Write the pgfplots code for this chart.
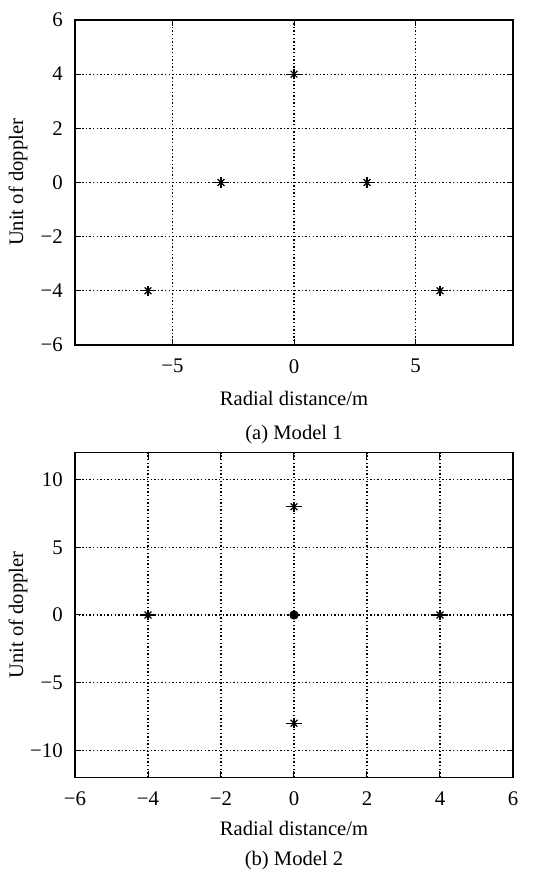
\documentclass[border=0pt]{standalone}
\usepackage{pgfplots}
\pgfplotsset{compat=1.18}
\usepackage{fontspec}
\setmainfont{Liberation Serif}
\begin{document}
\fontsize{10.3pt}{12pt}\selectfont
\begin{tikzpicture}
\useasboundingbox (0,0) rectangle (270.5pt,435.5pt);
\pgfplotsset{
  modelax/.style={
    scale only axis,
    width=219pt,
    axis line style={black, line width=0.6pt},
    tick align=inside,
    major tick length=3pt,
    tick style={black, line width=0.5pt},
    grid=major,
    major grid style={black, line width=0.55pt, dash pattern=on 0.7pt off 1.1pt},
    /pgf/number format/assume math mode=true,
    ticklabel style={font=\fontsize{10.4pt}{12pt}\selectfont},
    xtick pos=both, ytick pos=both,
    yticklabel style={xshift=-2.5pt},
    xticklabel style={yshift=-3.5pt},
    label style={font=\fontsize{10.3pt}{12pt}\selectfont},
  },
  hmark/.style={only marks, mark=-, mark size=3.8pt, mark options={line width=0.6pt}, black},
  vmark/.style={only marks, mark=|, mark size=2.6pt, mark options={line width=0.6pt}, black},
  xmark/.style={only marks, mark=x, mark size=2.4pt, mark options={line width=0.6pt}, black},
}
% Top: Model 1
\begin{axis}[modelax,
  at={(37.5pt,263pt)}, anchor=south west,
  height=162.5pt,
  xmin=-9, xmax=9, ymin=-6, ymax=6,
  xtick={-5,0,5}, xticklabels={−5,0,5},
  ytick={-6,-4,-2,0,2,4,6}, yticklabels={−6,−4,−2,0,2,4,6},
  xlabel={Radial distance/m}, ylabel={Unit of doppler},
  xlabel style={at={(axis description cs:0.5,-0.163)}, anchor=center},
  ylabel style={at={(axis description cs:-0.130,0.5)}, anchor=center},
]
\addplot[hmark] coordinates {(0,4) (-3,0) (3,0) (-6,-4) (6,-4)};
\addplot[vmark] coordinates {(0,4) (-3,0) (3,0) (-6,-4) (6,-4)};
\addplot[xmark] coordinates {(0,4) (-3,0) (3,0) (-6,-4) (6,-4)};
\end{axis}
\node[anchor=center] at (147pt,218pt) {(a) Model 1};
% Bottom: Model 2
\begin{axis}[modelax,
  at={(37.5pt,46.85pt)}, anchor=south west,
  height=162.3pt,
  xmin=-6, xmax=6, ymin=-12, ymax=12,
  xtick={-6,-4,-2,0,2,4,6}, xticklabels={−6,−4,−2,0,2,4,6},
  ytick={-10,-5,0,5,10}, yticklabels={−10,−5,0,5,10},
  xlabel={Radial distance/m}, ylabel={Unit of doppler},
  xlabel style={at={(axis description cs:0.5,-0.157)}, anchor=center},
  ylabel style={at={(axis description cs:-0.130,0.5)}, anchor=center},
]
\addplot[hmark] coordinates {(0,8) (-4,0) (4,0) (0,-8)};
\addplot[vmark] coordinates {(0,8) (-4,0) (4,0) (0,-8)};
\addplot[xmark] coordinates {(0,8) (-4,0) (4,0) (0,-8)};
\addplot[only marks, mark=*, mark size=2.1pt, black] coordinates {(0,0)};
\end{axis}
\node[anchor=center] at (147pt,5pt) {(b) Model 2};
\end{tikzpicture}
\end{document}
